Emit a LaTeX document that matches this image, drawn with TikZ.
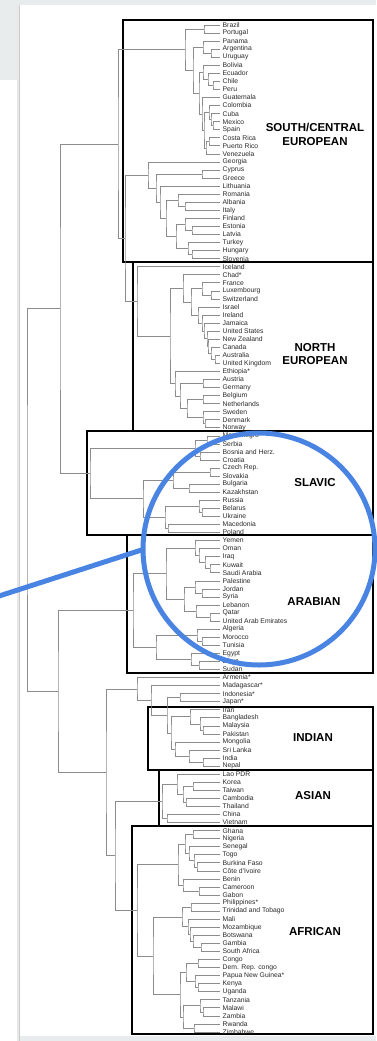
\documentclass[tikz,border=0pt]{standalone}
\usepackage{fontspec}
\setmainfont{Liberation Sans}
\usetikzlibrary{calc}
\definecolor{treec}{HTML}{8C8C8C}
\definecolor{bluec}{HTML}{4A84E2}
\definecolor{bgc}{HTML}{E9ECED}
\definecolor{txtc}{HTML}{2A2A2A}
\tikzset{
  tree/.style={draw=treec, line width=0.7pt},
  leaf/.style={anchor=west, inner sep=0pt, text=txtc, font=\fontsize{6.8}{7}\selectfont},
  grp/.style={draw=black, line width=1.3pt},
  title/.style={align=center, inner sep=0pt, font=\bfseries\fontsize{11.5}{13.5}\selectfont, text=black},
  blue/.style={draw=bluec, line width=5pt}
}
\newcommand\leafN[3]{\coordinate (#1) at (220,{25+(#2-1)*8.056});\node[leaf] (#1t) at (222.5,{25+(#2-1)*8.056}) {#3};}
\newcommand\mergeN[4]{\path (#3) -- (#4) coordinate[pos=.5] (#1m);\coordinate (#1) at (#2,0 |- #1m);\draw[tree] (#3) -| (#1) |- (#4);}
\begin{document}
\begin{tikzpicture}[x=1pt,y=-1pt]
\useasboundingbox (0,0) rectangle (376,1041);
\fill[white] (0,0) rectangle (376,1041);
\fill[bgc] (0,0) rectangle (376,5);
\fill[bgc] (0,0) rectangle (18,80);
\fill[bgc] (18,1036) rectangle (376,1041);
\fill[gray!18] (16.5,5) rectangle (19.5,1041);
\draw[gray!40, line width=0.8pt] (19,5) -- (19,1041);
% group boxes
\draw[grp] (123,20) rectangle (373,262);
\draw[grp] (133,262) rectangle (373,431);
\draw[grp] (87,431) rectangle (373,535);
\draw[grp] (127,535) rectangle (373,673);
\draw[grp] (148,707) rectangle (373,770);
\draw[grp] (159,770) rectangle (373,826);
\draw[grp] (132,826) rectangle (373,1034);
% leaves
\leafN{L1}{1}{Brazil}
\leafN{L2}{2}{Portugal}
\leafN{L3}{3}{Panama}
\leafN{L4}{4}{Argentina}
\leafN{L5}{5}{Uruguay}
\leafN{L6}{6}{Bolivia}
\leafN{L7}{7}{Ecuador}
\leafN{L8}{8}{Chile}
\leafN{L9}{9}{Peru}
\leafN{L10}{10}{Guatemala}
\leafN{L11}{11}{Colombia}
\leafN{L12}{12}{Cuba}
\leafN{L13}{13}{Mexico}
\leafN{L14}{14}{Spain}
\leafN{L15}{15}{Costa Rica}
\leafN{L16}{16}{Puerto Rico}
\leafN{L17}{17}{Venezuela}
\leafN{L18}{18}{Georgia}
\leafN{L19}{19}{Cyprus}
\leafN{L20}{20}{Greece}
\leafN{L21}{21}{Lithuania}
\leafN{L22}{22}{Romania}
\leafN{L23}{23}{Albania}
\leafN{L24}{24}{Italy}
\leafN{L25}{25}{Finland}
\leafN{L26}{26}{Estonia}
\leafN{L27}{27}{Latvia}
\leafN{L28}{28}{Turkey}
\leafN{L29}{29}{Hungary}
\leafN{L30}{30}{Slovenia}
\leafN{L31}{31}{Iceland}
\leafN{L32}{32}{Chad*}
\leafN{L33}{33}{France}
\leafN{L34}{34}{Luxembourg}
\leafN{L35}{35}{Switzerland}
\leafN{L36}{36}{Israel}
\leafN{L37}{37}{Ireland}
\leafN{L38}{38}{Jamaica}
\leafN{L39}{39}{United States}
\leafN{L40}{40}{New Zealand}
\leafN{L41}{41}{Canada}
\leafN{L42}{42}{Australia}
\leafN{L43}{43}{United Kingdom}
\leafN{L44}{44}{Ethiopia*}
\leafN{L45}{45}{Austria}
\leafN{L46}{46}{Germany}
\leafN{L47}{47}{Belgium}
\leafN{L48}{48}{Netherlands}
\leafN{L49}{49}{Sweden}
\leafN{L50}{50}{Denmark}
\leafN{L51}{51}{Norway}
\leafN{L52}{52}{Montenegro}
\leafN{L53}{53}{Serbia}
\leafN{L54}{54}{Bosnia and Herz.}
\leafN{L55}{55}{Croatia}
\leafN{L56}{56}{Czech Rep.}
\leafN{L57}{57}{Slovakia}
\leafN{L58}{58}{Bulgaria}
\leafN{L59}{59}{Kazakhstan}
\leafN{L60}{60}{Russia}
\leafN{L61}{61}{Belarus}
\leafN{L62}{62}{Ukraine}
\leafN{L63}{63}{Macedonia}
\leafN{L64}{64}{Poland}
\leafN{L65}{65}{Yemen}
\leafN{L66}{66}{Oman}
\leafN{L67}{67}{Iraq}
\leafN{L68}{68}{Kuwait}
\leafN{L69}{69}{Saudi Arabia}
\leafN{L70}{70}{Palestine}
\leafN{L71}{71}{Jordan}
\leafN{L72}{72}{Syria}
\leafN{L73}{73}{Lebanon}
\leafN{L74}{74}{Qatar}
\leafN{L75}{75}{United Arab Emirates}
\leafN{L76}{76}{Algeria}
\leafN{L77}{77}{Morocco}
\leafN{L78}{78}{Tunisia}
\leafN{L79}{79}{Egypt}
\leafN{L80}{80}{Libya}
\leafN{L81}{81}{Sudan}
\leafN{L82}{82}{Armenia*}
\leafN{L83}{83}{Madagascar*}
\leafN{L84}{84}{Indonesia*}
\leafN{L85}{85}{Japan*}
\leafN{L86}{86}{Iran}
\leafN{L87}{87}{Bangladesh}
\leafN{L88}{88}{Malaysia}
\leafN{L89}{89}{Pakistan}
\leafN{L90}{90}{Mongolia}
\leafN{L91}{91}{Sri Lanka}
\leafN{L92}{92}{India}
\leafN{L93}{93}{Nepal}
\leafN{L94}{94}{Lao PDR}
\leafN{L95}{95}{Korea}
\leafN{L96}{96}{Taiwan}
\leafN{L97}{97}{Cambodia}
\leafN{L98}{98}{Thailand}
\leafN{L99}{99}{China}
\leafN{L100}{100}{Vietnam}
\leafN{L101}{101}{Ghana}
\leafN{L102}{102}{Nigeria}
\leafN{L103}{103}{Senegal}
\leafN{L104}{104}{Togo}
\leafN{L105}{105}{Burkina Faso}
\leafN{L106}{106}{Côte d'Ivoire}
\leafN{L107}{107}{Benin}
\leafN{L108}{108}{Cameroon}
\leafN{L109}{109}{Gabon}
\leafN{L110}{110}{Philippines*}
\leafN{L111}{111}{Trinidad and Tobago}
\leafN{L112}{112}{Mali}
\leafN{L113}{113}{Mozambique}
\leafN{L114}{114}{Botswana}
\leafN{L115}{115}{Gambia}
\leafN{L116}{116}{South Africa}
\leafN{L117}{117}{Congo}
\leafN{L118}{118}{Dem. Rep. congo}
\leafN{L119}{119}{Papua New Guinea*}
\leafN{L120}{120}{Kenya}
\leafN{L121}{121}{Uganda}
\leafN{L122}{122}{Tanzania}
\leafN{L123}{123}{Malawi}
\leafN{L124}{124}{Zambia}
\leafN{L125}{125}{Rwanda}
\leafN{L126}{126}{Zimbabwe}
% Latin
\mergeN{BP}{204}{L1}{L2}
\mergeN{AU}{211}{L4}{L5}
\mergeN{PAU}{203}{L3}{AU}
\mergeN{CP}{213}{L8}{L9}
\mergeN{ECP}{208}{L7}{CP}
\mergeN{BECP}{203}{L6}{ECP}
\mergeN{MS}{213}{L13}{L14}
\mergeN{CuMS}{211}{L12}{MS}
\mergeN{CoCMS}{209}{L11}{CuMS}
\mergeN{CRPR}{209}{L15}{L16}
\mergeN{CPV}{206}{CRPR}{L17}
\mergeN{CMSCPV}{204}{CoCMS}{CPV}
\mergeN{GU}{202}{L10}{CMSCPV}
\mergeN{NR}{199}{BECP}{GU}
\mergeN{NT}{193}{PAU}{NR}
\mergeN{LAT}{185}{BP}{NT}
% Georgia group
\mergeN{CG}{202}{L19}{L20}
\mergeN{AI}{185}{L23}{L24}
\mergeN{RAI}{178}{L22}{AI}
\mergeN{EL}{192}{L26}{L27}
\mergeN{FEL}{185}{L25}{EL}
\mergeN{HS}{192}{L29}{L30}
\mergeN{THS}{188}{L28}{HS}
\mergeN{FT}{176}{FEL}{THS}
\mergeN{RF}{166}{RAI}{FT}
\mergeN{LR}{160}{L21}{RF}
\mergeN{CGL}{156}{CG}{LR}
\mergeN{GEO}{148}{L18}{CGL}
% North European
\mergeN{LS}{211}{L34}{L35}
\mergeN{FLS}{202}{L33}{LS}
\mergeN{AUK}{215}{L42}{L43}
\mergeN{CA}{211}{L41}{AUK}
\mergeN{NZC}{208}{L40}{CA}
\mergeN{USN}{207}{L39}{NZC}
\mergeN{JU}{204}{L38}{USN}
\mergeN{IJ}{202}{L37}{JU}
\mergeN{IsI}{198}{L36}{IJ}
\mergeN{XX}{191}{FLS}{IsI}
\mergeN{UP}{183}{L32}{XX}
\mergeN{AG}{203}{L45}{L46}
\mergeN{BN}{203}{L47}{L48}
\mergeN{DN}{205}{L50}{L51}
\mergeN{SDN}{203}{L49}{DN}
\mergeN{BSDN}{187}{BN}{SDN}
\mergeN{AGB}{180}{AG}{BSDN}
\mergeN{LOW}{175}{L44}{AGB}
\mergeN{RST}{170}{UP}{LOW}
\mergeN{NE}{137}{L31}{RST}
\mergeN{DD}{125}{GEO}{NE}
\mergeN{CC}{118}{LAT}{DD}
% Slavic
\mergeN{MoS}{207}{L52}{L53}
\mergeN{BoC}{200}{L54}{L55}
\mergeN{MSBC}{195}{MoS}{BoC}
\mergeN{CS}{210}{L56}{L57}
\mergeN{BK}{189}{L58}{L59}
\mergeN{CSBK}{173}{CS}{BK}
\mergeN{BU}{202}{L61}{L62}
\mergeN{RBU}{199}{L60}{BU}
\mergeN{MP}{168}{L63}{L64}
\mergeN{RBUMP}{165}{RBU}{MP}
\mergeN{SLL}{143}{CSBK}{RBUMP}
\mergeN{SLA}{90}{MSBC}{SLL}
\mergeN{AA}{60}{CC}{SLA}
% Arabian
\mergeN{KS}{210}{L68}{L69}
\mergeN{IKS}{205}{L67}{KS}
\mergeN{OIKS}{199}{L66}{IKS}
\mergeN{YO}{195}{L65}{OIKS}
\mergeN{JS}{202}{L71}{L72}
\mergeN{PJS}{195}{L70}{JS}
\mergeN{QU}{210}{L74}{L75}
\mergeN{LQU}{196}{L73}{QU}
\mergeN{PL}{184}{PJS}{LQU}
\mergeN{YPL}{166}{YO}{PL}
\mergeN{MT}{202}{L77}{L78}
\mergeN{AMT}{197}{L76}{MT}
\mergeN{LSu}{199}{L80}{L81}
\mergeN{ELS}{191}{L79}{LSu}
\mergeN{NAF}{156}{AMT}{ELS}
\mergeN{ARA}{133}{YPL}{NAF}
% Indian and singles
\mergeN{IJa}{180}{L84}{L85}
\mergeN{MPa}{203}{L88}{L89}
\mergeN{BMP}{200}{L87}{MPa}
\mergeN{IBMP}{190}{L86}{BMP}
\mergeN{IN}{203}{L92}{L93}
\mergeN{SIN}{189}{L91}{IN}
\mergeN{MSIN}{175}{L90}{SIN}
\mergeN{IND}{171}{IBMP}{MSIN}
\mergeN{ZZ}{167}{IJa}{IND}
\mergeN{WW}{151}{L83}{ZZ}
\mergeN{VV}{137}{L82}{WW}
% Asian
\mergeN{KT}{193}{L95}{L96}
\mergeN{CT}{186}{L97}{L98}
\mergeN{KTCT}{183}{KT}{CT}
\mergeN{LKC}{177}{L94}{KTCT}
\mergeN{CV}{167}{L99}{L100}
\mergeN{ASI}{162}{LKC}{CV}
% African
\mergeN{GN}{193}{L101}{L102}
\mergeN{BC}{197}{L105}{L106}
\mergeN{TBC}{194}{L104}{BC}
\mergeN{STBC}{189}{L103}{TBC}
\mergeN{GNS}{185}{GN}{STBC}
\mergeN{CGa}{199}{L108}{L109}
\mergeN{BCG}{183}{L107}{CGa}
\mergeN{WES}{178}{GNS}{BCG}
\mergeN{PT}{191}{L110}{L111}
\mergeN{GS}{201}{L115}{L116}
\mergeN{BGS}{193}{L114}{GS}
\mergeN{MBGS}{190}{L113}{BGS}
\mergeN{MMB}{188}{L112}{MBGS}
\mergeN{PTM}{182}{PT}{MMB}
\mergeN{CD}{198}{L117}{L118}
\mergeN{KU}{198}{L120}{L121}
\mergeN{PKU}{195}{L119}{KU}
\mergeN{CDPKU}{186}{CD}{PKU}
\mergeN{MZ}{203}{L123}{L124}
\mergeN{TMZ}{200}{L122}{MZ}
\mergeN{RZ}{194}{L125}{L126}
\mergeN{TR}{183}{TMZ}{RZ}
\mergeN{EA}{180}{CDPKU}{TR}
\mergeN{RES}{153}{PTM}{EA}
\mergeN{AFR}{137}{WES}{RES}
\mergeN{UU}{115}{ASI}{AFR}
\mergeN{LB}{106}{VV}{UU}
\mergeN{BB}{58}{ARA}{LB}
\mergeN{ROOT}{27}{AA}{BB}
% titles
\node[title] (tsce) at (315,134.5) {SOUTH/CENTRAL\\EUROPEAN};
\node[title] (tne) at (315,354) {NORTH\\EUROPEAN};
\node[title] (tsla) at (315,483) {SLAVIC};
\node[title] (tara) at (314,602) {ARABIAN};
\node[title] (tind) at (313,738) {INDIAN};
\node[title] (tasi) at (313,796) {ASIAN};
\node[title] (tafr) at (315,932) {AFRICAN};
% highlight circle and pointer
\coordinate (cc) at (259,549);
\draw[blue] (cc) circle[radius=116];
\coordinate (pin) at (143,549.5);
\coordinate (pout) at (-4,597);
\draw[blue] (pin) -- (pout);
\end{tikzpicture}
\end{document}
